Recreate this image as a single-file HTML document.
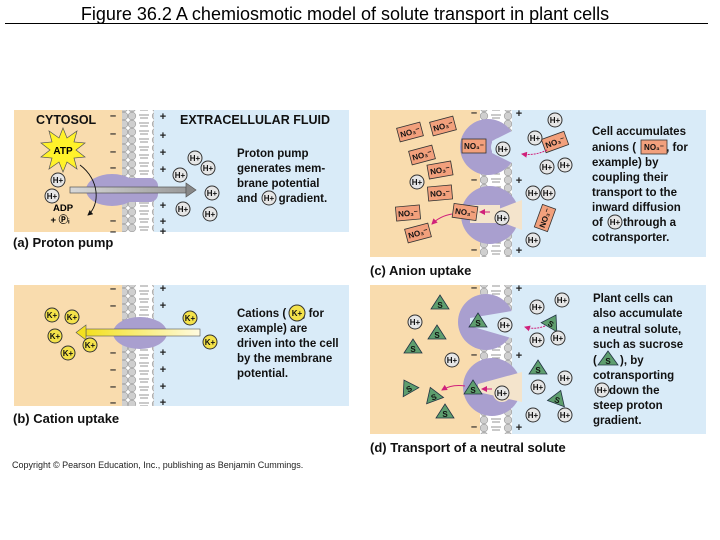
<!DOCTYPE html>
<html><head><meta charset="utf-8"><style>
html,body{margin:0;padding:0;background:#fff;}
svg{display:block;font-family:"Liberation Sans",sans-serif;}
.t{font-weight:bold;font-size:11.5px;fill:#111;}
.lab{font-weight:bold;font-size:13px;fill:#111;}
.hd{font-weight:bold;font-size:12.5px;fill:#111;}
.sg{font-weight:bold;font-size:11px;fill:#222;text-anchor:middle;}
.h circle{fill:#e6e6e6;stroke:#333;stroke-width:1;}
.h text{font-size:8px;font-weight:bold;text-anchor:middle;fill:#111;}
.k circle{fill:#f4e24a;stroke:#333;stroke-width:1;}
.k text{font-size:8px;font-weight:bold;text-anchor:middle;fill:#111;}
.n rect{fill:#f2a07c;stroke:#333;stroke-width:0.8;}
.n text{font-size:8px;font-weight:bold;text-anchor:middle;fill:#111;}
.s polygon{fill:#5e9e6e;stroke:#234;stroke-width:0.8;}
.s text{font-size:8px;font-weight:bold;text-anchor:middle;fill:#111;}
</style></head><body>
<svg width="720" height="540" viewBox="0 0 720 540" xmlns="http://www.w3.org/2000/svg">
<defs>
<pattern id="mem" x="0" y="0" width="32" height="8" patternUnits="userSpaceOnUse">
<rect width="32" height="8" fill="#fff"/>
<circle cx="4" cy="4" r="3.8" fill="#cfcfcf" stroke="#9a9a9a" stroke-width="0.6"/>
<circle cx="28" cy="4" r="3.8" fill="#cfcfcf" stroke="#9a9a9a" stroke-width="0.6"/>
<line x1="11" y1="3" x2="21" y2="3" stroke="#666" stroke-width="0.7"/>
<line x1="12" y1="6" x2="20" y2="6" stroke="#666" stroke-width="0.7"/>
</pattern>
<linearGradient id="yg" x1="0" x2="1"><stop offset="0" stop-color="#f3e020"/><stop offset="1" stop-color="#fffbe0"/></linearGradient>
<linearGradient id="gg" x1="0" x2="1"><stop offset="0" stop-color="#d8d8d8"/><stop offset="1" stop-color="#9a9a9a"/></linearGradient>
<marker id="mg" markerWidth="6" markerHeight="6" refX="5" refY="3" orient="auto"><path d="M0,0 L6,3 L0,6 Z" fill="#d0207a"/></marker>
<marker id="bk" markerWidth="6" markerHeight="6" refX="5" refY="3" orient="auto"><path d="M0,0 L6,3 L0,6 Z" fill="#111"/></marker>
</defs>

<text x="345" y="20" font-size="18" text-anchor="middle" fill="#000">Figure 36.2  A chemiosmotic model of solute transport in plant cells</text>
<line x1="5" y1="23.5" x2="708" y2="23.5" stroke="#000" stroke-width="1"/>

<!-- Panel A -->
<rect x="14" y="110" width="109" height="122" fill="#f9dcae"/>
<rect x="153" y="110" width="196" height="122" fill="#d9ebf8"/>
<rect x="122" y="110" width="32" height="122" fill="url(#mem)"/>
<g class="sg"><text x="113" y="119">–</text><text x="113" y="137">–</text><text x="113" y="155">–</text><text x="113" y="171">–</text><text x="113" y="224">–</text><text x="113" y="235">–</text>
<text x="163" y="120">+</text><text x="163" y="139">+</text><text x="163" y="156">+</text><text x="163" y="173">+</text><text x="163" y="209">+</text><text x="163" y="225">+</text><text x="163" y="235">+</text></g>
<ellipse cx="112" cy="190" rx="26" ry="16" fill="#a99fcf"/>
<rect x="110" y="178" width="48" height="24" rx="8" fill="#a99fcf"/>
<rect x="70" y="187" width="116" height="6" fill="url(#gg)" stroke="#555" stroke-width="0.7"/>
<polygon points="186,183 196,190 186,197" fill="#888" stroke="#555" stroke-width="0.7"/>
<polygon points="63,128 67,138 77,131 74,142 85,143 76,150 85,157 74,158 77,169 67,162 63,172 59,162 49,169 52,158 41,157 50,150 41,143 52,142 49,131 59,138" fill="#fff22a" stroke="#555" stroke-width="0.7"/>
<text x="63" y="154" font-size="10" font-weight="bold" text-anchor="middle">ATP</text>
<path d="M80,165 C100,180 100,205 88,215" fill="none" stroke="#111" stroke-width="0.9" marker-end="url(#bk)"/>
<text x="63" y="211" font-size="9.5" font-weight="bold" text-anchor="middle">ADP</text>
<text x="60" y="223" font-size="9.5" font-weight="bold" text-anchor="middle">+ Ⓟᵢ</text>
<g class="h" transform="translate(58,180)"><circle r="7"/><text y="3">H+</text></g>
<g class="h" transform="translate(52,196)"><circle r="7"/><text y="3">H+</text></g>
<g class="h" transform="translate(195,158)"><circle r="7"/><text y="3">H+</text></g>
<g class="h" transform="translate(208,168)"><circle r="7"/><text y="3">H+</text></g>
<g class="h" transform="translate(180,175)"><circle r="7"/><text y="3">H+</text></g>
<g class="h" transform="translate(212,193)"><circle r="7"/><text y="3">H+</text></g>
<g class="h" transform="translate(183,209)"><circle r="7"/><text y="3">H+</text></g>
<g class="h" transform="translate(210,214)"><circle r="7"/><text y="3">H+</text></g>
<text class="hd" x="36" y="124">CYTOSOL</text>
<text class="hd" x="180" y="124">EXTRACELLULAR FLUID</text>
<text class="t" x="237" y="157">Proton pump</text>
<text class="t" x="237" y="172">generates mem-</text>
<text class="t" x="237" y="187">brane potential</text>
<text class="t" x="237" y="202">and <tspan dx="18">gradient.</tspan></text>
<g class="h" transform="translate(269,198)"><circle r="7"/><text y="3">H+</text></g>
<text class="lab" x="13" y="247">(a) Proton pump</text>

<!-- Panel B -->
<rect x="14" y="285" width="109" height="121" fill="#f9dcae"/>
<rect x="153" y="285" width="196" height="121" fill="#d9ebf8"/>
<rect x="122" y="285" width="32" height="121" fill="url(#mem)"/>
<g class="sg"><text x="113" y="292">–</text><text x="113" y="309">–</text><text x="113" y="356">–</text><text x="113" y="373">–</text><text x="113" y="390">–</text><text x="113" y="406">–</text>
<text x="163" y="292">+</text><text x="163" y="309">+</text><text x="163" y="356">+</text><text x="163" y="373">+</text><text x="163" y="390">+</text><text x="163" y="406">+</text></g>
<ellipse cx="140" cy="333" rx="27" ry="16" fill="#a99fcf"/>
<rect x="86" y="329" width="114" height="7" fill="url(#yg)" stroke="#555" stroke-width="0.6"/>
<polygon points="86,325 76,332.5 86,340" fill="#f3e020" stroke="#555" stroke-width="0.6"/>
<g class="k" transform="translate(52,315)"><circle r="7"/><text y="3">K+</text></g>
<g class="k" transform="translate(72,317)"><circle r="7"/><text y="3">K+</text></g>
<g class="k" transform="translate(55,336)"><circle r="7"/><text y="3">K+</text></g>
<g class="k" transform="translate(90,345)"><circle r="7"/><text y="3">K+</text></g>
<g class="k" transform="translate(68,353)"><circle r="7"/><text y="3">K+</text></g>
<g class="k" transform="translate(190,318)"><circle r="7"/><text y="3">K+</text></g>
<g class="k" transform="translate(210,342)"><circle r="7"/><text y="3">K+</text></g>
<text class="t" x="237" y="317">Cations (<tspan dx="16">, for</tspan></text>
<g class="k" transform="translate(297,313)"><circle r="8"/><text y="3">K+</text></g>
<text class="t" x="237" y="332">example) are</text>
<text class="t" x="237" y="347">driven into the cell</text>
<text class="t" x="237" y="362">by the membrane</text>
<text class="t" x="237" y="377">potential.</text>
<text class="lab" x="13" y="423">(b) Cation uptake</text>

<!-- Panel C -->
<rect x="370" y="110" width="112" height="147" fill="#f9dcae"/>
<rect x="511" y="110" width="195" height="147" fill="#d9ebf8"/>
<rect x="480" y="110" width="32" height="147" fill="url(#mem)"/>
<g class="sg"><text x="474" y="116">–</text><text x="474" y="183">–</text><text x="474" y="253">–</text><text x="519" y="117">+</text><text x="519" y="184">+</text><text x="519" y="254">+</text></g>
<circle cx="488" cy="147" r="28" fill="#a99fcf"/>
<polygon points="492,141 518,128 518,166 492,153" fill="#d9ebf8"/>
<circle cx="500" cy="147" r="9" fill="#d9ebf8"/>
<circle cx="490" cy="215" r="29" fill="#a99fcf"/>
<polygon points="496,210 522,200 522,230 496,220" fill="#f4e4cc"/>
<rect x="470" y="205" width="30" height="18" fill="#f4e4cc"/>
<g class="n" transform="translate(410,132) rotate(-15)"><rect x="-12" y="-7" width="24" height="14"/><text y="3">NO₃⁻</text></g>
<g class="n" transform="translate(443,126) rotate(-15)"><rect x="-12" y="-7" width="24" height="14"/><text y="3">NO₃⁻</text></g>
<g class="n" transform="translate(422,155) rotate(-15)"><rect x="-12" y="-7" width="24" height="14"/><text y="3">NO₃⁻</text></g>
<g class="n" transform="translate(440,170) rotate(-10)"><rect x="-12" y="-7" width="24" height="14"/><text y="3">NO₃⁻</text></g>
<g class="n" transform="translate(440,193) rotate(-5)"><rect x="-12" y="-7" width="24" height="14"/><text y="3">NO₃⁻</text></g>
<g class="n" transform="translate(408,213) rotate(-5)"><rect x="-12" y="-7" width="24" height="14"/><text y="3">NO₃⁻</text></g>
<g class="n" transform="translate(418,233) rotate(-15)"><rect x="-12" y="-7" width="24" height="14"/><text y="3">NO₃⁻</text></g>
<g class="n" transform="translate(465,212) rotate(8)"><rect x="-12" y="-7" width="24" height="14"/><text y="3">NO₃⁻</text></g>
<g class="n" transform="translate(474,146)"><rect x="-12" y="-7" width="24" height="14"/><text y="3">NO₃⁻</text></g>
<g class="n" transform="translate(555,142) rotate(-20)"><rect x="-12" y="-7" width="24" height="14"/><text y="3">NO₃⁻</text></g>
<g class="n" transform="translate(545,218) rotate(-70)"><rect x="-12" y="-7" width="24" height="14"/><text y="3">NO₃⁻</text></g>
<g class="h" transform="translate(555,120)"><circle r="7"/><text y="3">H+</text></g>
<g class="h" transform="translate(535,138)"><circle r="7"/><text y="3">H+</text></g>
<g class="h" transform="translate(503,149)"><circle r="7"/><text y="3">H+</text></g>
<g class="h" transform="translate(547,167)"><circle r="7"/><text y="3">H+</text></g>
<g class="h" transform="translate(565,165)"><circle r="7"/><text y="3">H+</text></g>
<g class="h" transform="translate(417,182)"><circle r="7"/><text y="3">H+</text></g>
<g class="h" transform="translate(533,193)"><circle r="7"/><text y="3">H+</text></g>
<g class="h" transform="translate(548,193)"><circle r="7"/><text y="3">H+</text></g>
<g class="h" transform="translate(502,218)"><circle r="7"/><text y="3">H+</text></g>
<g class="h" transform="translate(533,240)"><circle r="7"/><text y="3">H+</text></g>
<path d="M547,150 Q535,156 522,154" fill="none" stroke="#d0207a" stroke-width="1" stroke-dasharray="2,1" marker-end="url(#mg)"/>
<path d="M490,212 L480,212" fill="none" stroke="#d0207a" stroke-width="1" marker-end="url(#mg)"/>
<path d="M452,214 Q440,216 432,224" fill="none" stroke="#d0207a" stroke-width="1" marker-end="url(#mg)"/>
<text class="t" x="592" y="135">Cell accumulates</text>
<text class="t" x="592" y="151">anions (<tspan dx="30">, for</tspan></text>
<g class="n" transform="translate(654,147)"><rect x="-13" y="-7" width="26" height="14"/><text y="3" font-size="10">NO₃⁻</text></g>
<text class="t" x="592" y="166">example) by</text>
<text class="t" x="592" y="181">coupling their</text>
<text class="t" x="592" y="196">transport to the</text>
<text class="t" x="592" y="211">inward diffusion</text>
<text class="t" x="592" y="226">of <tspan dx="17">through a</tspan></text>
<g class="h" transform="translate(615,222)"><circle r="7"/><text y="3">H+</text></g>
<text class="t" x="592" y="241">cotransporter.</text>
<text class="lab" x="370" y="275">(c) Anion uptake</text>

<!-- Panel D -->
<rect x="370" y="285" width="112" height="149" fill="#f9dcae"/>
<rect x="511" y="285" width="195" height="149" fill="#d9ebf8"/>
<rect x="480" y="285" width="32" height="149" fill="url(#mem)"/>
<g class="sg"><text x="474" y="291">–</text><text x="474" y="358">–</text><text x="474" y="430">–</text><text x="519" y="292">+</text><text x="519" y="359">+</text><text x="519" y="431">+</text></g>
<circle cx="486" cy="322" r="28" fill="#a99fcf"/>
<polygon points="470,318 518,310 518,340 470,326" fill="#d9ebf8"/>
<circle cx="503" cy="324" r="9" fill="#d9ebf8"/>
<circle cx="492" cy="387" r="29" fill="#a99fcf"/>
<polygon points="478,384 522,372 522,402 478,392" fill="#f4e4cc"/>
<circle cx="502" cy="393" r="9" fill="#f4e4cc"/>
<g class="s" transform="translate(440,303)"><polygon points="0,-8 9,6 -9,6"/><text y="5">S</text></g>
<g class="s" transform="translate(437,333)"><polygon points="0,-8 9,6 -9,6"/><text y="5">S</text></g>
<g class="s" transform="translate(413,347)"><polygon points="0,-8 9,6 -9,6"/><text y="5">S</text></g>
<g class="s" transform="translate(478,321)"><polygon points="0,-8 9,6 -9,6"/><text y="5">S</text></g>
<g class="s" transform="translate(552,322) rotate(30)"><polygon points="0,-8 9,6 -9,6"/><text y="5">S</text></g>
<g class="s" transform="translate(538,368)"><polygon points="0,-8 9,6 -9,6"/><text y="5">S</text></g>
<g class="s" transform="translate(408,387) rotate(-30)"><polygon points="0,-8 9,6 -9,6"/><text y="5">S</text></g>
<g class="s" transform="translate(433,395) rotate(-20)"><polygon points="0,-8 9,6 -9,6"/><text y="5">S</text></g>
<g class="s" transform="translate(473,388)"><polygon points="0,-8 9,6 -9,6"/><text y="5">S</text></g>
<g class="s" transform="translate(558,398) rotate(20)"><polygon points="0,-8 9,6 -9,6"/><text y="5">S</text></g>
<g class="s" transform="translate(445,412)"><polygon points="0,-8 9,6 -9,6"/><text y="5">S</text></g>
<g class="h" transform="translate(562,300)"><circle r="7"/><text y="3">H+</text></g>
<g class="h" transform="translate(537,307)"><circle r="7"/><text y="3">H+</text></g>
<g class="h" transform="translate(415,322)"><circle r="7"/><text y="3">H+</text></g>
<g class="h" transform="translate(505,325)"><circle r="7"/><text y="3">H+</text></g>
<g class="h" transform="translate(537,340)"><circle r="7"/><text y="3">H+</text></g>
<g class="h" transform="translate(558,338)"><circle r="7"/><text y="3">H+</text></g>
<g class="h" transform="translate(452,360)"><circle r="7"/><text y="3">H+</text></g>
<g class="h" transform="translate(565,378)"><circle r="7"/><text y="3">H+</text></g>
<g class="h" transform="translate(538,387)"><circle r="7"/><text y="3">H+</text></g>
<g class="h" transform="translate(502,393)"><circle r="7"/><text y="3">H+</text></g>
<g class="h" transform="translate(533,415)"><circle r="7"/><text y="3">H+</text></g>
<g class="h" transform="translate(565,415)"><circle r="7"/><text y="3">H+</text></g>
<path d="M545,326 Q535,330 525,327" fill="none" stroke="#d0207a" stroke-width="1" stroke-dasharray="2,1" marker-end="url(#mg)"/>
<path d="M492,389 L482,389" fill="none" stroke="#d0207a" stroke-width="1" marker-end="url(#mg)"/>
<path d="M465,386 Q452,384 442,390" fill="none" stroke="#d0207a" stroke-width="1" marker-end="url(#mg)"/>
<text class="t" x="593" y="302">Plant cells can</text>
<text class="t" x="593" y="317">also accumulate</text>
<text class="t" x="593" y="333">a neutral solute,</text>
<text class="t" x="593" y="348">such as sucrose</text>
<text class="t" x="593" y="364">( <tspan dx="20">), by</tspan></text>
<g class="s" transform="translate(608,359)"><polygon points="0,-8 10,6 -10,6"/><text y="5">S</text></g>
<text class="t" x="593" y="379">cotransporting</text>
<text class="t" x="593" y="394"><tspan dx="16">down the</tspan></text>
<g class="h" transform="translate(602,390)"><circle r="7"/><text y="3">H+</text></g>
<text class="t" x="593" y="409">steep proton</text>
<text class="t" x="593" y="424">gradient.</text>
<text class="lab" x="370" y="452">(d) Transport of a neutral solute</text>

<text x="12" y="468" font-size="9" fill="#222">Copyright © Pearson Education, Inc., publishing as Benjamin Cummings.</text>
</svg>
</body></html>
